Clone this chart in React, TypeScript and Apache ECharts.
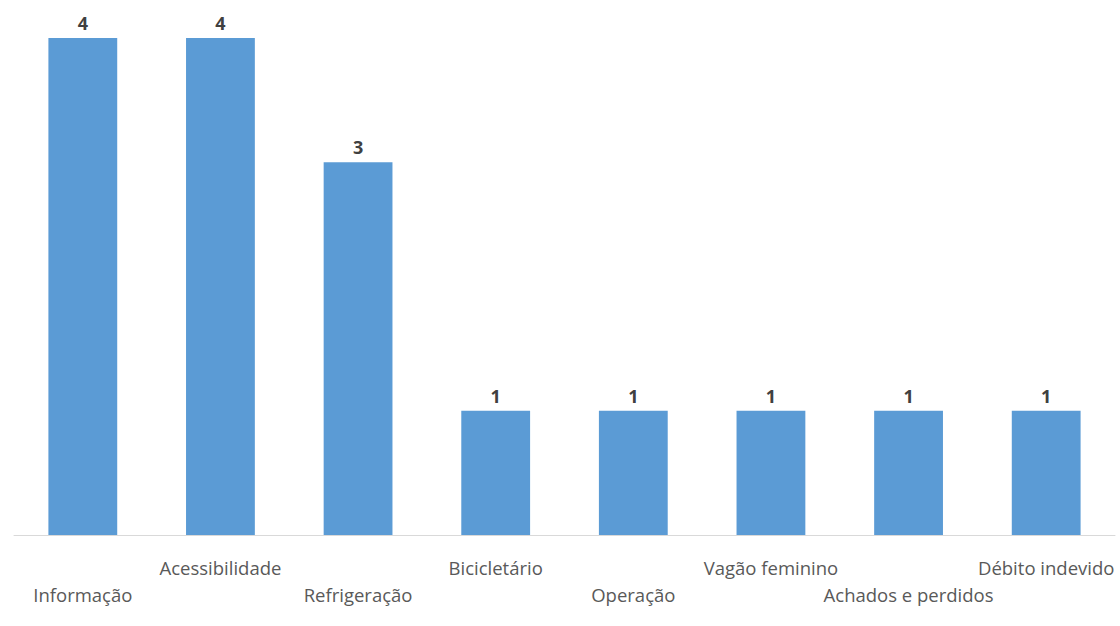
import React, { useEffect, useRef } from "react";
import * as echarts from "echarts";

const categories = [
  "Informação",
  "Acessibilidade",
  "Refrigeração",
  "Bicicletário",
  "Operação",
  "Vagão feminino",
  "Achados e perdidos",
  "Débito indevido",
];
const values = [4, 4, 3, 1, 1, 1, 1, 1];

export default function App() {
  const ref = useRef<HTMLDivElement>(null);
  useEffect(() => {
    if (!ref.current) return;
    const chart = echarts.init(ref.current, undefined, { renderer: "svg" });
    chart.setOption({
      animation: false,
      backgroundColor: "#ffffff",
      grid: { left: 14, right: 5, top: 38, bottom: 91, containLabel: false },
      xAxis: {
        type: "category",
        data: categories,
        axisLine: { show: true, lineStyle: { color: "#d9d9d9", width: 1 } },
        axisTick: { show: false },
        axisLabel: {
          interval: 0,
          hideOverlap: false,
          color: "#595959",
          fontFamily: "Open Sans",
          fontSize: 18.5,
          lineHeight: 27,
          margin: 19,
          formatter: (v: string, i: number) => (i % 2 === 0 ? "\n" + v : v),
        },
      },
      yAxis: {
        type: "value",
        min: 0,
        max: 4,
        show: false,
        splitLine: { show: false },
      },
      series: [
        {
          type: "bar",
          data: values,
          barWidth: "50%",
          itemStyle: { color: "#5b9bd5" },
          label: {
            show: true,
            position: "top",
            distance: 6,
            color: "#404040",
            fontFamily: "Open Sans",
            fontWeight: "bold",
            fontSize: 18,
          },
        },
      ],
    });
    return () => chart.dispose();
  }, []);
  return (
    <div
      ref={ref}
      style={{ position: "fixed", left: 0, top: 0, width: 1120, height: 626 }}
    />
  );
}
